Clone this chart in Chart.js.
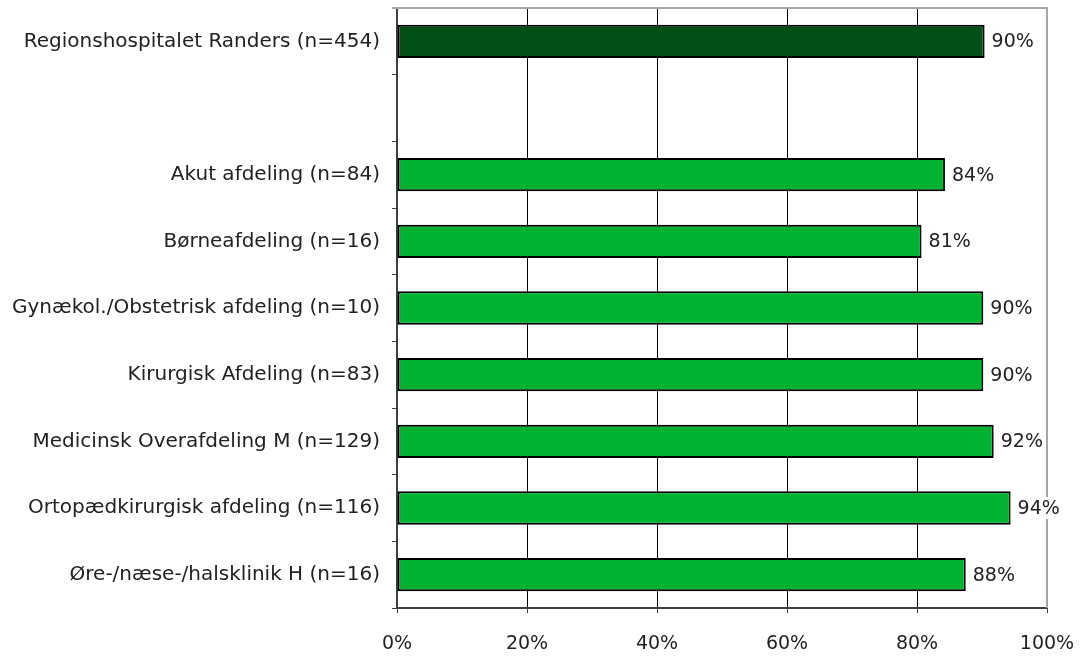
<!DOCTYPE html>
<html>
<head>
<meta charset="utf-8">
<script src="https://cdn.jsdelivr.net/npm/chart.js@4"></script>
<style>
  html, body { margin: 0; padding: 0; background: #fff; }
  #wrap { width: 1080px; height: 658px; }
</style>
</head>
<body>
<div id="wrap"><canvas id="chart" width="1080" height="658"></canvas></div>
<script>
// Data (blank row between hospital total and departments)
const categories = [
  'Regionshospitalet Randers (n=454)',
  '',
  'Akut afdeling (n=84)',
  'Børneafdeling (n=16)',
  'Gynækol./Obstetrisk afdeling (n=10)',
  'Kirurgisk Afdeling (n=83)',
  'Medicinsk Overafdeling M (n=129)',
  'Ortopædkirurgisk afdeling (n=116)',
  'Øre-/næse-/halsklinik H (n=16)'
];
const values = [90.4, null, 84.3, 80.7, 90.2, 90.2, 91.8, 94.4, 87.5];
const xTicks = [0, 20, 40, 60, 80, 100];

const darkGreen = '#034f18';
const lightGreen = '#00b132';
const fontFamily = '"DejaVu Sans", sans-serif';

// value labels with white box behind (they cover the right border)
const valueLabels = {
  id: 'valueLabels',
  afterDatasetsDraw(chart) {
    const c = chart.ctx;
    const meta = chart.getDatasetMeta(0);
    c.save();
    c.font = '19px ' + fontFamily;
    c.textBaseline = 'middle';
    c.textAlign = 'left';
    meta.data.forEach((bar, i) => {
      if (values[i] == null) return;
      const txt = Math.round(values[i]) + '%';
      const x = bar.x + 7;
      const w = c.measureText(txt).width;
      c.fillStyle = '#fff';
      c.fillRect(x - 2, bar.y - 11, w + 4, 22);
      c.fillStyle = '#222';
      c.fillText(txt, x, bar.y + 1);
    });
    c.restore();
  }
};

// gray top + right frame
const frame = {
  id: 'frame',
  beforeDatasetsDraw(chart) {
    const a = chart.chartArea;
    const c = chart.ctx;
    c.save();
    c.strokeStyle = '#a6a6a6';
    c.lineWidth = 2;
    c.beginPath();
    c.moveTo(a.left - 5, a.top);
    c.lineTo(a.right, a.top);
    c.lineTo(a.right, a.bottom);
    c.stroke();
    c.restore();
  }
};

new Chart(document.getElementById('chart'), {
  type: 'bar',
  data: {
    labels: categories,
    datasets: [{
      data: values,
      backgroundColor: categories.map((c, i) => i === 0 ? darkGreen : lightGreen),
      borderColor: '#000',
      borderWidth: 2,
      borderSkipped: false,
      barPercentage: 0.5,
      categoryPercentage: 1.0
    }]
  },
  options: {
    indexAxis: 'y',
    responsive: false,
    animation: false,
    layout: { padding: { top: 8, right: 33, left: 0, bottom: 0 } },
    plugins: {
      legend: { display: false },
      tooltip: { enabled: false }
    },
    scales: {
      x: {
        min: 0,
        max: 100,
        afterBuildTicks: scale => { scale.ticks = xTicks.map(v => ({ value: v })); },
        afterFit: scale => { scale.height = 658 - 608; scale.paddingLeft = 0; scale.paddingRight = 0; },
        ticks: {
          color: '#222',
          font: { family: fontFamily, size: 19 },
          padding: 20,
          maxRotation: 0,
          callback: v => v + '%'
        },
        grid: {
          color: ctx => ctx.tick && ctx.tick.value === 100 ? '#a6a6a6' : '#000',
          lineWidth: 1,
          tickLength: 5,
          tickColor: '#404040'
        },
        border: { color: '#404040', width: 2 }
      },
      y: {
        offset: true,
        afterFit: scale => { scale.width = 397; scale.paddingTop = 0; scale.paddingBottom = 0; },
        ticks: {
          color: '#222',
          font: { family: fontFamily, size: 20 },
          padding: 12
        },
        grid: {
          offset: true,
          drawOnChartArea: false,
          tickLength: 5,
          color: '#404040',
          lineWidth: 1
        },
        border: { color: '#404040', width: 2 }
      }
    }
  },
  plugins: [frame, valueLabels]
});
</script>
</body>
</html>
